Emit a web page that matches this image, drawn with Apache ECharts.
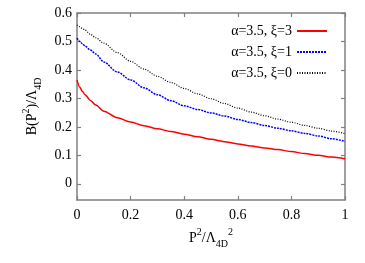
<!DOCTYPE html>
<html><head><meta charset="utf-8">
<script src="https://cdn.jsdelivr.net/npm/echarts@6/dist/echarts.min.js"></script>
<style>html,body{margin:0;padding:0;background:#fff}#c{width:365px;height:263px}</style>
</head><body><div id="c"></div>
<script>
// x positions (P^2/Λ^2)
const xs = [0,0.01,0.02,0.03,0.05,0.07,0.1,0.15,0.2,0.25,0.3,0.35,0.4,0.45,0.5,0.55,0.6,0.65,0.7,0.75,0.8,0.85,0.9,0.95,1.0];
const red   = [0.365,0.340,0.325,0.313,0.293,0.277,0.255,0.232,0.217,0.204,0.193,0.184,0.174,0.165,0.156,0.148,0.140,0.133,0.126,0.120,0.113,0.106,0.100,0.094,0.088];
const blue  = [0.512,0.500,0.492,0.484,0.470,0.456,0.428,0.393,0.365,0.337,0.313,0.292,0.274,0.261,0.249,0.238,0.226,0.215,0.205,0.195,0.186,0.177,0.168,0.158,0.149];
const black = [0.558,0.552,0.546,0.540,0.525,0.513,0.494,0.461,0.430,0.403,0.378,0.356,0.335,0.316,0.299,0.282,0.266,0.252,0.239,0.227,0.216,0.205,0.195,0.185,0.176];
const names = ['α=3.5, ξ=3','α=3.5, ξ=1','α=3.5, ξ=0'];
const xTicks = [0,0.2,0.4,0.6,0.8,1];
const yTicks = [0,0.1,0.2,0.3,0.4,0.5,0.6];

const pair = arr => xs.map((x,i)=>[x,arr[i]]);
const F = 'Liberation Serif';
const frame = {show:true,onZero:false,lineStyle:{color:'#808080',width:1.5}};
const tick = {show:true,inside:true,length:4,lineStyle:{color:'#808080',width:1.2}};
const rich = {
  a:{fontFamily:F,fontSize:14,color:'#000',lineHeight:22,verticalAlign:'middle'},
  sup:{fontFamily:F,fontSize:10,color:'#000',verticalAlign:'top',lineHeight:22},
  sub:{fontFamily:F,fontSize:10,color:'#000',verticalAlign:'bottom',lineHeight:22}
};
const chart = echarts.init(document.getElementById('c'),null,{renderer:'canvas'});
chart.setOption({
  animation:false,
  textStyle:{fontFamily:F},
  grid:{left:77,right:20,top:13,bottom:63},
  legend:{
    right:32, top:19, orient:'vertical', align:'right',
    itemWidth:30, itemHeight:14, itemGap:7,
    itemStyle:{opacity:0},
    textStyle:{fontFamily:F,fontSize:14,color:'#000'},
    data:names
  },
  xAxis:[{
    type:'value', min:0, max:1, interval:0.2, position:'bottom',
    axisLine:frame, axisTick:tick, splitLine:{show:false},
    axisLabel:{fontFamily:F,fontSize:14,color:'#000',margin:8,formatter:v=>String(+v.toFixed(1))},
    name:'{a|P}{sup|2}{a|/Λ}{sub|4D}{sup|2}', nameLocation:'middle', nameGap:15,
    nameTextStyle:{rich}
  },{
    type:'value', min:0, max:1, interval:0.2, position:'top',
    axisLine:frame, axisTick:tick, axisLabel:{show:false}, splitLine:{show:false}
  }],
  yAxis:[{
    type:'value', min:-0.057, max:0.6, position:'left',
    axisLine:frame,
    axisTick:Object.assign({customValues:yTicks},tick),
    axisLabel:{customValues:yTicks,fontFamily:F,fontSize:14,color:'#000',margin:5,formatter:v=>String(+v.toFixed(1))},
    splitLine:{show:false},
    name:'{a|B(P}{sup|2}{a|)/Λ}{sub|4D}', nameLocation:'middle', nameGap:32, nameRotate:90,
    nameTextStyle:{rich}
  },{
    type:'value', min:-0.057, max:0.6, position:'right',
    axisLine:frame,
    axisTick:Object.assign({customValues:yTicks},tick),
    axisLabel:{show:false}, splitLine:{show:false}
  }],
  series:[
    {name:names[0],type:'line',data:pair(red),smooth:0.3,smoothMonotone:'x',symbol:'none',
     itemStyle:{color:'#ff0000'},lineStyle:{color:'#ff0000',width:1.5,type:'solid'}},
    {name:names[1],type:'line',data:pair(blue),smooth:0.3,smoothMonotone:'x',symbol:'none',
     itemStyle:{color:'#0000ff'},lineStyle:{color:'#0000ff',width:1.5,type:[2,1]}},
    {name:names[2],type:'line',data:pair(black),smooth:0.3,smoothMonotone:'x',symbol:'none',
     itemStyle:{color:'#000'},lineStyle:{color:'#000',width:1.2,type:[1,1.5]}}
  ]
});
</script></body></html>
